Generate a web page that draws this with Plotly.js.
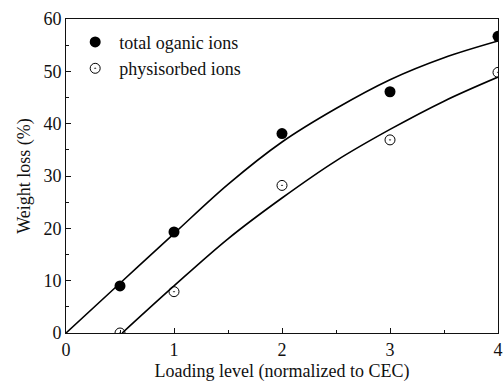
<!DOCTYPE html>
<html>
<head>
<meta charset="utf-8">
<script src="https://cdn.plot.ly/plotly-3.0.1.min.js"></script>
<style>html,body{margin:0;padding:0;background:#fff;}#chart{width:503px;height:382px;}</style>
</head>
<body>
<div id="chart"></div>
<script>
// Measured points
const loading = [0.5, 1, 2, 3, 4];
const totalIons = [9.0, 19.3, 38.1, 46.1, 56.7];
const physIons = [0.0, 7.9, 28.2, 36.9, 49.8];

// Fitted curves
const totalFitX = [0, 0.5, 1, 1.5, 2, 2.5, 3, 3.5, 4];
const totalFitY = [0, 9.5, 19.0, 28.4, 36.5, 42.9, 48.4, 52.6, 55.8];
const physFitX = [0.52, 1, 1.5, 2, 2.5, 3, 3.5, 4];
const physFitY = [0, 9.0, 18.0, 25.8, 32.9, 38.9, 44.3, 48.9];

const seriesNames = ['total oganic ions', 'physisorbed ions'];

const FONT = 'Liberation Serif, Times New Roman, serif';

const traces = [
  {x: totalFitX, y: totalFitY, mode: 'lines', line: {color: '#000', width: 1.6, shape: 'spline', smoothing: 1}, showlegend: false, hoverinfo: 'skip'},
  {x: physFitX, y: physFitY, mode: 'lines', line: {color: '#000', width: 1.6, shape: 'spline', smoothing: 1}, showlegend: false, hoverinfo: 'skip'},
  {x: loading, y: totalIons, name: seriesNames[0], mode: 'markers',
   marker: {symbol: 'circle', size: 11, color: '#000'}},
  {x: loading, y: physIons, name: seriesNames[1], mode: 'markers',
   marker: {symbol: 'circle-open-dot', size: 10, color: '#000', line: {width: 1, color: '#000'}}}
];

const axisCommon = {
  showgrid: false, zeroline: false, showline: true, linecolor: '#111', linewidth: 1,
  mirror: true, ticks: 'inside', ticklen: 5, tickwidth: 1, tickcolor: '#111',
  tickfont: {family: FONT, size: 18, color: '#111'}
};

const layout = {
  width: 503, height: 382,
  margin: {l: 66, r: 5, t: 19, b: 49, pad: 0},
  paper_bgcolor: '#fff', plot_bgcolor: '#fff',
  font: {family: FONT, color: '#111'},
  xaxis: Object.assign({}, axisCommon, {
    range: [0, 4], dtick: 1, tick0: 0,
    minor: {dtick: 0.5, ticks: 'inside', ticklen: 3, tickcolor: '#111', showgrid: false},
    title: {text: 'Loading level (normalized to CEC)', font: {family: FONT, size: 18, color: '#111'}, standoff: 10}
  }),
  yaxis: Object.assign({}, axisCommon, {
    range: [0, 60], dtick: 10, tick0: 0,
    minor: {dtick: 5, ticks: 'inside', ticklen: 3, tickcolor: '#111', showgrid: false},
    title: {text: 'Weight loss (%)', font: {family: FONT, size: 18, color: '#111'}, standoff: 8}
  }),
  showlegend: true,
  legend: {
    x: 0.012, y: 0.985, xanchor: 'left', yanchor: 'top',
    bgcolor: 'rgba(0,0,0,0)', borderwidth: 0, itemwidth: 38,
    font: {family: FONT, size: 18, color: '#111'}
  }
};

Plotly.newPlot('chart', traces, layout, {staticPlot: true, displayModeBar: false});
</script>
</body>
</html>
